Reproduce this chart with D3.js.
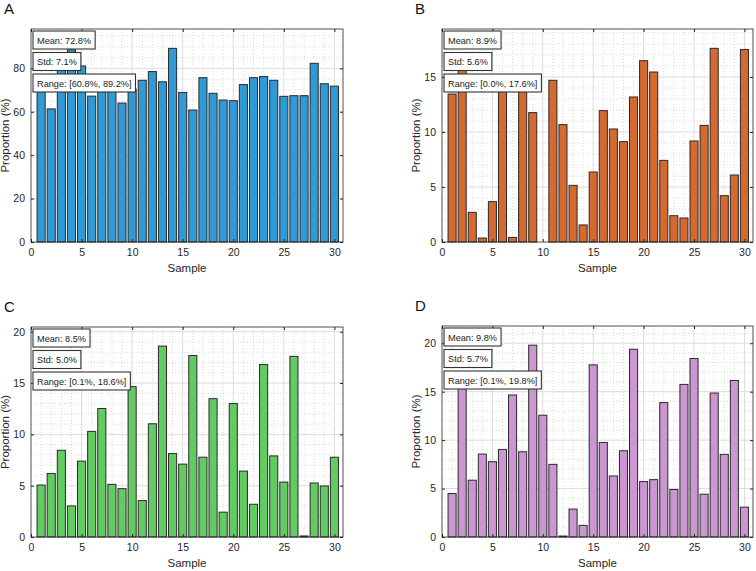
<!DOCTYPE html>
<html lang="en">
<head>
<meta charset="UTF-8">
<title>Proportion per sample</title>
<script src="https://d3js.org/d3.v7.min.js"></script>
<style>
body,html{margin:0;padding:0;background:#fff;}
text{font-family:"Liberation Sans",Arial,sans-serif;}
</style>
</head>
<body>
<svg width="756" height="571"></svg>
<script>
// data
const samples = [1,2,3,4,5,6,7,8,9,10,11,12,13,14,15,16,17,18,19,20,21,22,23,24,25,26,27,28,29,30];
const valuesA = [74,61.3,82,88.5,81.1,67.2,73,74,64.0,70.5,74.5,78.5,73.8,89.2,68.9,60.8,75.7,68.5,65.4,65.1,72.5,75.7,76.2,74.5,67.1,67.4,67.4,82.3,72.9,71.8];
const valuesB = [13.45,15.6,2.7,0.36,3.67,13.9,0.42,14.1,11.76,0,14.7,10.67,5.15,1.55,6.36,11.94,10.27,9.12,13.18,16.48,15.45,7.42,2.39,2.18,9.18,10.6,17.6,4.21,6.09,17.5];
const valuesC = [5.06,6.19,8.45,3.03,7.39,10.29,12.52,5.13,4.71,14.65,3.55,11.03,18.6,8.13,7.10,17.68,7.77,13.48,2.42,13.0,6.42,3.19,16.8,7.9,5.35,17.6,0.1,5.26,4.97,7.77];
const valuesD = [4.49,16.8,5.86,8.56,7.77,9.04,14.66,8.8,19.8,12.57,7.5,0.1,2.88,1.2,17.77,9.76,6.3,8.9,19.38,5.72,5.92,13.87,4.9,15.75,18.42,4.42,14.86,8.53,16.16,3.08];
const statsA = ["Mean: 72.8%","Std: 7.1%","Range: [60.8%, 89.2%]"];
const statsB = ["Mean: 8.9%","Std: 5.6%","Range: [0.0%, 17.6%]"];
const statsC = ["Mean: 8.5%","Std: 5.0%","Range: [0.1%, 18.6%]"];
const statsD = ["Mean: 9.8%","Std: 5.7%","Range: [0.1%, 19.8%]"];
const xTicks = [0,5,10,15,20,25,30];
const yTicksA = [0,20,40,60,80];
const yTicksB = [0,5,10,15];
const yTicksCD = [0,5,10,15,20];

const panels = [
  {label:"A", values:valuesA, stats:statsA, yTicks:yTicksA, minorY:5, color:"#2f9ad5", x:31, y:29, w:312, h:213},
  {label:"B", values:valuesB, stats:statsB, yTicks:yTicksB, minorY:1, color:"#d5692f", x:442, y:29, w:311, h:213},
  {label:"C", values:valuesC, stats:statsC, yTicks:yTicksCD, minorY:1, color:"#62cc62", x:31, y:327, w:312, h:210},
  {label:"D", values:valuesD, stats:statsD, yTicks:yTicksCD, minorY:1, color:"#cc96d2", x:442, y:326, w:311, h:211}
];

const svg = d3.select("svg");
const ink = "#262626";

panels.forEach(p => {
  const g = svg.append("g").attr("transform", `translate(${p.x},${p.y})`);
  const x = d3.scaleLinear().domain([0, 30.85]).range([0, p.w]);
  const yMax = d3.max(p.values) * 1.1;
  const y = d3.scaleLinear().domain([0, yMax]).range([p.h, 0]);

  // minor grid
  const minorX = d3.range(1, 31).filter(v => v % 5 !== 0);
  const minorYs = d3.range(p.minorY, yMax, p.minorY).filter(v => !p.yTicks.includes(v));
  g.append("g").selectAll("line").data(minorX).join("line")
    .attr("x1", d => x(d)).attr("x2", d => x(d)).attr("y1", 0).attr("y2", p.h)
    .attr("stroke", "#cfcfcf").attr("stroke-width", 0.8).attr("stroke-dasharray", "1,2");
  g.append("g").selectAll("line").data(minorYs).join("line")
    .attr("y1", d => y(d)).attr("y2", d => y(d)).attr("x1", 0).attr("x2", p.w)
    .attr("stroke", "#cfcfcf").attr("stroke-width", 0.8).attr("stroke-dasharray", "1,2");
  // major grid
  g.append("g").selectAll("line").data(xTicks.slice(1)).join("line")
    .attr("x1", d => x(d)).attr("x2", d => x(d)).attr("y1", 0).attr("y2", p.h)
    .attr("stroke", "#dcdcdc").attr("stroke-width", 1);
  g.append("g").selectAll("line").data(p.yTicks.slice(1)).join("line")
    .attr("y1", d => y(d)).attr("y2", d => y(d)).attr("x1", 0).attr("x2", p.w)
    .attr("stroke", "#dcdcdc").attr("stroke-width", 1);

  // bars
  g.append("g").selectAll("rect").data(p.values).join("rect")
    .attr("x", (d, i) => x(samples[i] - 0.4))
    .attr("width", x(0.8) - x(0))
    .attr("y", d => y(d))
    .attr("height", d => p.h - y(d))
    .attr("fill", p.color)
    .attr("stroke", "#2a2a2a")
    .attr("stroke-width", 1);

  // axes, ticks pointing inward
  g.append("g").attr("transform", `translate(0,${p.h})`)
    .call(d3.axisBottom(x).tickValues(xTicks).tickSize(-3).tickPadding(7));
  g.append("g")
    .call(d3.axisLeft(y).tickValues(p.yTicks).tickSize(-3).tickPadding(6));
  g.append("g").call(d3.axisTop(x).tickValues(xTicks).tickSize(-3).tickFormat(""));
  g.append("g").attr("transform", `translate(${p.w},0)`)
    .call(d3.axisRight(y).tickValues(p.yTicks).tickSize(-3).tickFormat(""));
  g.selectAll(".domain").remove();
  g.selectAll(".tick line").attr("stroke", ink);
  g.selectAll(".tick text").attr("fill", ink).style("font-size", "10.5px")
    .style("font-family", "'Liberation Sans',Arial,sans-serif");
  g.append("rect").attr("width", p.w).attr("height", p.h)
    .attr("fill", "none").attr("stroke", ink).attr("stroke-width", 0.8);

  // axis titles
  g.append("text").attr("x", p.w / 2).attr("y", p.h + 30)
    .attr("text-anchor", "middle").attr("fill", ink).style("font-size", "11.5px").text("Sample");
  g.append("text").attr("transform", `translate(-22.5,${p.h / 2}) rotate(-90)`)
    .attr("text-anchor", "middle").attr("fill", ink).style("font-size", "11.5px").text("Proportion (%)");

  // stat boxes
  p.stats.forEach((s, i) => {
    const bg = g.append("g").attr("transform", `translate(2,${2 + i * 21.5})`);
    const r = bg.append("rect").attr("height", 18).attr("fill", "#fff")
      .attr("stroke", "#333").attr("stroke-width", 1.1);
    const t = bg.append("text").attr("x", 4).attr("y", 12.8).attr("fill", "#222")
      .style("font-size", "9.2px").text(s);
    r.attr("width", t.node().getComputedTextLength() + 8);
  });

  // panel letter
  svg.append("text").attr("x", p.x - 27).attr("y", p.y - 15)
    .style("font-family", "'Liberation Sans',Arial,sans-serif").style("font-size", "15px")
    .attr("fill", "#111").text(p.label);
});
</script>
</body>
</html>
